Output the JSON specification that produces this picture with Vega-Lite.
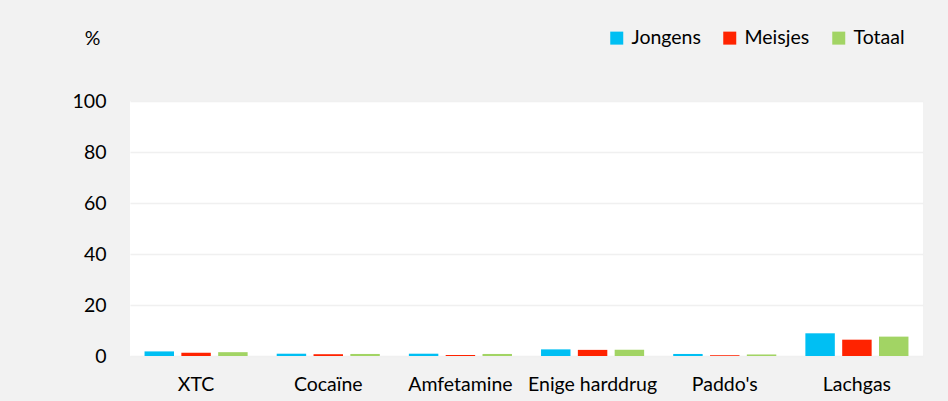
{
  "$schema": "https://vega.github.io/schema/vega-lite/v6.json",
  "width": 793,
  "height": 255,
  "autosize": {"type": "none"},
  "padding": {"left": 130, "top": 101, "right": 25, "bottom": 45},
  "background": "#f2f2f2",
  "config": {
    "view": {"fill": "white", "stroke": null},
    "font": "Lato",
    "axis": {"labelFont": "Lato", "titleFont": "Lato", "labelColor": "#000000", "titleColor": "#000000"},
    "legend": {"labelFont": "Lato"}
  },
  "data": {
    "values": [
      {"drug": "XTC", "groep": "Jongens", "pct": 1.8},
      {"drug": "XTC", "groep": "Meisjes", "pct": 1.3},
      {"drug": "XTC", "groep": "Totaal", "pct": 1.5},
      {"drug": "Cocaïne", "groep": "Jongens", "pct": 0.9},
      {"drug": "Cocaïne", "groep": "Meisjes", "pct": 0.7},
      {"drug": "Cocaïne", "groep": "Totaal", "pct": 0.8},
      {"drug": "Amfetamine", "groep": "Jongens", "pct": 0.9},
      {"drug": "Amfetamine", "groep": "Meisjes", "pct": 0.4},
      {"drug": "Amfetamine", "groep": "Totaal", "pct": 0.8},
      {"drug": "Enige harddrug", "groep": "Jongens", "pct": 2.6},
      {"drug": "Enige harddrug", "groep": "Meisjes", "pct": 2.4},
      {"drug": "Enige harddrug", "groep": "Totaal", "pct": 2.5},
      {"drug": "Paddo's", "groep": "Jongens", "pct": 0.8},
      {"drug": "Paddo's", "groep": "Meisjes", "pct": 0.3},
      {"drug": "Paddo's", "groep": "Totaal", "pct": 0.6},
      {"drug": "Lachgas", "groep": "Jongens", "pct": 8.9},
      {"drug": "Lachgas", "groep": "Meisjes", "pct": 6.4},
      {"drug": "Lachgas", "groep": "Totaal", "pct": 7.6}
    ]
  },
  "mark": {"type": "bar"},
  "encoding": {
    "x": {
      "field": "drug",
      "type": "nominal",
      "sort": null,
      "scale": {"paddingInner": 0.22, "paddingOuter": 0.11},
      "axis": {
        "title": null,
        "labelAngle": 0,
        "domain": false,
        "ticks": false,
        "labelPadding": 19,
        "labelFontSize": 19.5
      }
    },
    "xOffset": {
      "field": "groep",
      "type": "nominal",
      "sort": ["Jongens", "Meisjes", "Totaal"],
      "scale": {"paddingInner": 0.2, "paddingOuter": 0}
    },
    "y": {
      "field": "pct",
      "type": "quantitative",
      "scale": {"domain": [0, 100], "nice": false},
      "axis": {
        "values": [0, 20, 40, 60, 80, 100],
        "domain": false,
        "ticks": false,
        "labelPadding": 24,
        "labelFontSize": 19.5,
        "gridColor": "#f0f0f0",
        "gridWidth": 1.5,
        "title": "%",
        "titleAngle": 0,
        "titleFontSize": 19.5,
        "titleFontWeight": "normal",
        "titleX": -38,
        "titleY": -63,
        "titleAlign": "center",
        "titleBaseline": "middle"
      }
    },
    "color": {
      "field": "groep",
      "type": "nominal",
      "sort": ["Jongens", "Meisjes", "Totaal"],
      "scale": {"domain": ["Jongens", "Meisjes", "Totaal"], "range": ["#00bff3", "#ff2300", "#a2d464"]},
      "legend": {
        "title": null,
        "orient": "none",
        "direction": "horizontal",
        "legendX": 477,
        "legendY": -73,
        "symbolType": "square",
        "symbolSize": 169,
        "symbolStrokeWidth": 0,
        "labelFontSize": 19.5,
        "labelColor": "#000000",
        "labelOffset": 5,
        "columnPadding": 19
      }
    }
  }
}
